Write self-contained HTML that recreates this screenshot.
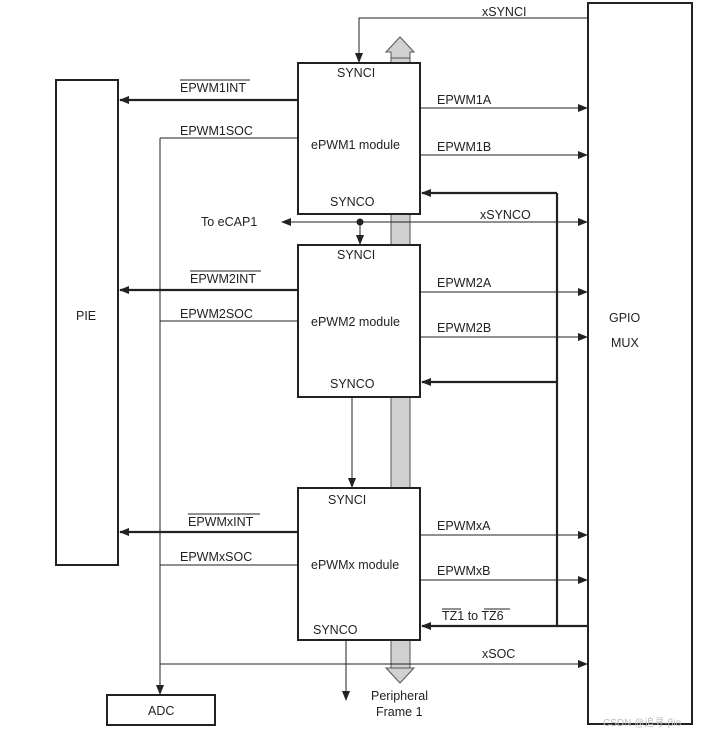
<!DOCTYPE html>
<html><head><style>
body{margin:0;background:#fff;}
svg text{font-family:"Liberation Sans",sans-serif;font-size:12.5px;fill:#222;}
</style></head><body>
<svg width="716" height="734" viewBox="0 0 716 734" xmlns="http://www.w3.org/2000/svg">
<defs>
<marker id="a" markerWidth="10" markerHeight="8" refX="9" refY="4" orient="auto" markerUnits="userSpaceOnUse"><path d="M0,0 L10,4 L0,8 z" fill="#222"/></marker>
</defs>
<g fill="none" stroke="#222">
<!-- gray bus -->
<rect x="391" y="48" width="19" height="620" fill="#d0d0d0" stroke="#555"/>
<path d="M386,52 L400,37 L414,52 L410,52 L410,58 L391,58 L391,52z" fill="#d0d0d0" stroke="#555"/>
<path d="M386,668 L400,683 L414,668z" fill="#d0d0d0" stroke="#555"/>
<!-- boxes -->
<rect x="588" y="3" width="104" height="721" fill="#fff" stroke-width="2"/>
<rect x="56" y="80" width="62" height="485" fill="#fff" stroke-width="2"/>
<rect x="107" y="695" width="108" height="30" fill="#fff" stroke-width="2"/>
<rect x="298" y="63" width="122" height="151" fill="#fff" stroke-width="2"/>
<rect x="298" y="245" width="122" height="152" fill="#fff" stroke-width="2"/>
<rect x="298" y="488" width="122" height="152" fill="#fff" stroke-width="2"/>
<!-- xSYNCI -->
<path d="M588,18 H359 V62" marker-end="url(#a)" stroke-width="1"/>
<!-- outputs -->
<g stroke-width="1">
<path d="M420,108 H587" marker-end="url(#a)"/>
<path d="M420,155 H587" marker-end="url(#a)"/>
<path d="M420,292 H587" marker-end="url(#a)"/>
<path d="M420,337 H587" marker-end="url(#a)"/>
<path d="M420,535 H587" marker-end="url(#a)"/>
<path d="M420,580 H587" marker-end="url(#a)"/>
<path d="M360,222 H587" marker-end="url(#a)"/>
<path d="M360,222 H282" marker-end="url(#a)"/>
<path d="M360,222 V244" marker-end="url(#a)"/>
<path d="M352,397 V487" marker-end="url(#a)"/>
<path d="M346,640 V700" marker-end="url(#a)"/>
<path d="M160,664 H587" marker-end="url(#a)"/>
<path d="M160,138 V694" marker-end="url(#a)"/>
<path d="M160,138 H298 M160,321 H298 M160,565 H298"/>
</g>
<circle cx="360" cy="222" r="3" fill="#222"/>
<!-- INT thick -->
<g stroke-width="2.2">
<path d="M298,100 H120" marker-end="url(#a)"/>
<path d="M298,290 H120" marker-end="url(#a)"/>
<path d="M298,532 H120" marker-end="url(#a)"/>
<path d="M557,193 V626 M588,626 H557"/>
<path d="M557,193 H422" marker-end="url(#a)"/>
<path d="M557,382 H422" marker-end="url(#a)"/>
<path d="M557,626 H422" marker-end="url(#a)"/>
</g>
</g>
<text x="482" y="16">xSYNCI</text>
<text x="337" y="77">SYNCI</text>
<text x="311" y="149">ePWM1 module</text>
<text x="330" y="206">SYNCO</text>
<text x="437" y="104">EPWM1A</text>
<text x="437" y="151">EPWM1B</text>
<text x="480" y="219">xSYNCO</text>
<text x="201" y="226">To eCAP1</text>
<text x="180" y="92">EPWM1INT</text>
<line x1="180" y1="80" x2="250" y2="80" stroke="#222"/>
<text x="180" y="135">EPWM1SOC</text>
<text x="337" y="259">SYNCI</text>
<text x="311" y="326">ePWM2 module</text>
<text x="330" y="388">SYNCO</text>
<text x="437" y="287">EPWM2A</text>
<text x="437" y="332">EPWM2B</text>
<text x="190" y="283">EPWM2INT</text>
<line x1="190" y1="271" x2="261" y2="271" stroke="#222"/>
<text x="180" y="318">EPWM2SOC</text>
<text x="328" y="504">SYNCI</text>
<text x="311" y="569">ePWMx module</text>
<text x="313" y="634">SYNCO</text>
<text x="437" y="530">EPWMxA</text>
<text x="437" y="575">EPWMxB</text>
<text x="442" y="620">TZ1 to TZ6</text>
<line x1="442" y1="609" x2="461" y2="609" stroke="#222"/>
<line x1="484" y1="609" x2="510" y2="609" stroke="#222"/>
<text x="188" y="526">EPWMxINT</text>
<line x1="188" y1="514" x2="260" y2="514" stroke="#222"/>
<text x="180" y="561">EPWMxSOC</text>
<text x="482" y="658">xSOC</text>
<text x="76" y="320">PIE</text>
<text x="609" y="322">GPIO</text>
<text x="611" y="347">MUX</text>
<text x="148" y="715">ADC</text>
<text x="371" y="700">Peripheral</text>
<text x="376" y="716">Frame 1</text>
<text x="603" y="726" style="font-size:10px;fill:#bbb">CSDN @追寻-βio</text>
</svg>
</body></html>
